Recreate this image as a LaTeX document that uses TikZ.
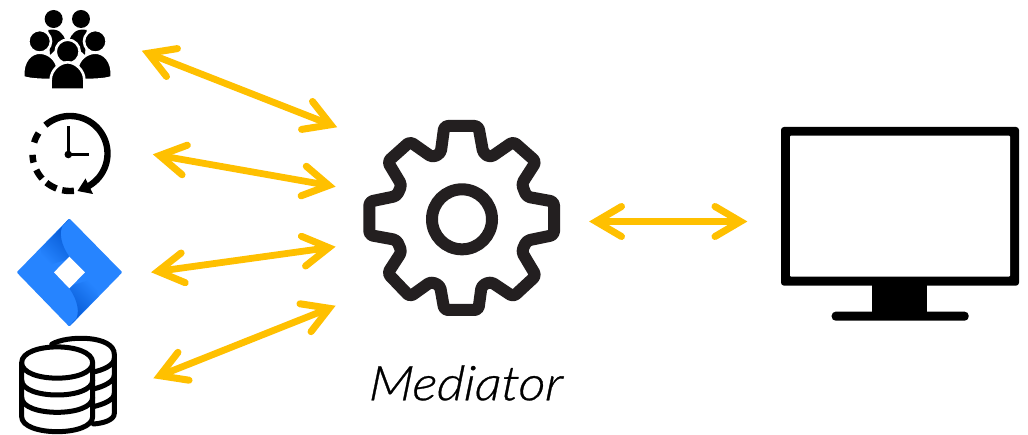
\documentclass[tikz,border=0pt]{standalone}
\usepackage{fontspec}
\newfontfamily\medfont[FakeStretch=1.09,FakeBold=0.6,FakeSlant=0.07]{Lato Light Italic}
\usetikzlibrary{arrows.meta}
\definecolor{arrowgold}{HTML}{FFC000}
\definecolor{gearblack}{HTML}{231F20}
\definecolor{jiralight}{HTML}{2684FF}
\definecolor{jiradark}{HTML}{0052CC}
\pgfdeclarearrow{
  name=GoldBarb,
  setup code={
    \pgfarrowssettipend{0pt}
    \pgfarrowssetlineend{-8pt}
    \pgfarrowssetvisualbackend{-8pt}
    \pgfarrowssetbackend{-36pt}
    \pgfarrowshullpoint{0pt}{0pt}
    \pgfarrowshullpoint{-36pt}{18.5pt}
    \pgfarrowshullpoint{-36pt}{-18.5pt}
  },
  drawing code={
    \pgfsetlinewidth{7pt}
    \pgfsetroundcap
    \pgfsetmiterjoin
    \pgfsetdash{}{0pt}
    \pgfpathmoveto{\pgfqpoint{-32.5pt}{15pt}}
    \pgfpathlineto{\pgfqpoint{-7pt}{0pt}}
    \pgfpathlineto{\pgfqpoint{-32.5pt}{-15pt}}
    \pgfusepathqstroke
  },
}
\tikzset{
  link/.style={draw=arrowgold,line width=6.8pt,GoldBarb-GoldBarb},
  zoomed/.style={x=0.33333pt,y=-0.33333pt},
  personpart/.style={fill=black,draw=white,line width=2.6pt},
  dbline/.style={draw=black,line width=5pt,line cap=round,line join=round,zoomed},
}
\begin{document}
\begin{tikzpicture}[x=1pt,y=-1pt]
\useasboundingbox (0,0) rectangle (1028,435);
\fill[white] (0,0) rectangle (1028,435);
% people
\begin{scope}[shift={(0,0)},zoomed]
  \fill (161,57) circle[radius=27];
  \fill (243,57) circle[radius=27];
  \fill (145,90) .. controls (175,84) and (190,100) .. (196,122) -- (150,165) -- cycle;
  \fill (260,90) .. controls (230,84) and (214,100) .. (208,122) -- (255,165) -- cycle;
  \path[personpart] (119,124) circle[radius=34];
  \path[personpart] (286,124) circle[radius=34];
  \path[personpart] (70,232) .. controls (66,180) and (95,158) .. (119,158) .. controls (150,158) and (172,185) .. (172,205) -- (172,240) .. controls (130,240) and (95,240) .. (70,232) -- cycle;
  \path[personpart] (335,232) .. controls (339,180) and (310,158) .. (286,158) .. controls (255,158) and (233,185) .. (233,205) -- (233,240) .. controls (275,240) and (310,240) .. (335,232) -- cycle;
  \path[personpart] (203,155) circle[radius=36];
  \path[personpart] (152,269) -- (152,240) .. controls (152,210) and (180,187) .. (203,187) .. controls (226,187) and (253,210) .. (253,240) -- (253,269) -- cycle;
\end{scope}
\coordinate (peopleport) at (141.7,50.7);
% clock
\begin{scope}[line cap=butt]
  \def\ccx{70}\def\ccy{153.5}\def\crr{37.5}
  \draw[line width=6.4pt,domain=131:-62,samples=60,smooth] plot ({\ccx+\crr*cos(\x)},{\ccy-\crr*sin(\x)});
  \foreach \a/\b in {163/147,-178/-166,-154/-138,-129/-111,-102/-84}
    \draw[line width=6.4pt,domain=\a:\b,samples=8] plot ({\ccx+\crr*cos(\x)},{\ccy-\crr*sin(\x)});
  \fill (77.5,191) -- (93,194) -- (85.5,178.5) -- cycle;
  \draw[line width=3.6pt] (68.3,126.5) -- (68.3,154.5) -- (88.5,154.5);
  \fill (68.3,154.5) circle[radius=3.8];
\end{scope}
\coordinate (clockport) at (152.7,154.3);
% jira
\begin{scope}[shift={(0,210)},zoomed]
  \fill[jiralight,rounded corners=1pt] (208,25) -- (367,187) -- (208,350) -- (50,187) -- cycle;
  \begin{scope}
    \clip (208,27) -- (190,44) .. controls (175,65) and (183,105) .. (208,140) -- (162,187) -- (52,187) -- cycle;
    \shade[top color=jiradark,bottom color=jiralight,shading angle=-45] (205,15) -- (215,145) -- (130,170) -- (120,100) -- cycle;
  \end{scope}
  \begin{scope}
    \clip (208,348) -- (226,331) .. controls (241,310) and (233,270) .. (208,235) -- (255,187) -- (365,187) -- cycle;
    \shade[top color=jiralight,bottom color=jiradark,shading angle=-45] (211,360) -- (201,230) -- (286,205) -- (296,275) -- cycle;
  \end{scope}
  \fill[white] (208,140) -- (255,187) -- (208,235) -- (162,187) -- cycle;
\end{scope}
\coordinate (jiraport) at (151,272.3);
% database
\begin{scope}[shift={(0,210)},zoomed]
  \draw[dbline] (155,403) .. controls (200,375) and (343,375) .. (343,433) -- (343,610) .. controls (343,630) and (310,640) .. (280,642);
  \draw[dbline] (280,486) .. controls (310,480) and (343,465) .. (343,445);
  \draw[dbline] (280,537) .. controls (310,530) and (343,515) .. (343,495);
  \draw[dbline] (280,590) .. controls (310,583) and (343,570) .. (343,550);
  \draw[dbline] (65,458) .. controls (65,395) and (278,395) .. (278,458) .. controls (278,520) and (65,520) .. (65,458) -- (65,620) .. controls (65,680) and (278,680) .. (278,620) -- (278,458);
  \draw[dbline] (65,510) .. controls (65,570) and (278,570) .. (278,510);
  \draw[dbline] (65,562) .. controls (65,622) and (278,622) .. (278,562);
\end{scope}
\coordinate (dbport) at (153.3,378.3);
% gear
\begin{scope}[shift={(350,110)},zoomed]
  \draw[gearblack,line width=12pt,rounded corners=3.5pt,line join=round]
    (283,48) -- (385,48) -- (400,130) -- (422,142) -- (490,95) -- (558,155) -- (515,222) -- (530,260)
    -- (612,275) -- (612,375) -- (530,392) -- (515,425) -- (558,497) -- (490,560) -- (422,515) -- (395,527)
    -- (385,600) -- (283,600) -- (270,527) -- (243,515) -- (180,560) -- (113,490) -- (155,425) -- (140,390)
    -- (58,375) -- (58,275) -- (140,258) -- (155,225) -- (113,155) -- (180,95) -- (247,142) -- (272,130) -- cycle;
  \draw[gearblack,line width=12pt] (336,328) circle[radius=90];
\end{scope}
\coordinate (gearport1) at (337.3,127.3);
\coordinate (gearport2) at (335.7,186.7);
\coordinate (gearport3) at (335.7,246.7);
\coordinate (gearport4) at (335.7,305.7);
\coordinate (gearport5) at (589,221.5);
\node[font=\medfont\fontsize{48}{48}\selectfont,anchor=center,inner sep=0pt] (mediator) at (465,383) {Mediator};
% monitor
\begin{scope}[shift={(770,115)},zoomed]
  \fill[rounded corners=3pt] (33,36) rectangle (747,512);
  \fill[white,rounded corners=1pt] (60,62) rectangle (720,485);
  \fill (307,505) rectangle (472,600);
  \fill[rounded corners=4pt] (185,590) rectangle (596,617);
\end{scope}
\coordinate (monitorport) at (747.5,221.5);
% links
\draw[link] (peopleport) -- (gearport1);
\draw[link] (clockport) -- (gearport2);
\draw[link] (jiraport) -- (gearport3);
\draw[link] (dbport) -- (gearport4);
\draw[link] (gearport5) -- (monitorport);
\end{tikzpicture}
\end{document}
